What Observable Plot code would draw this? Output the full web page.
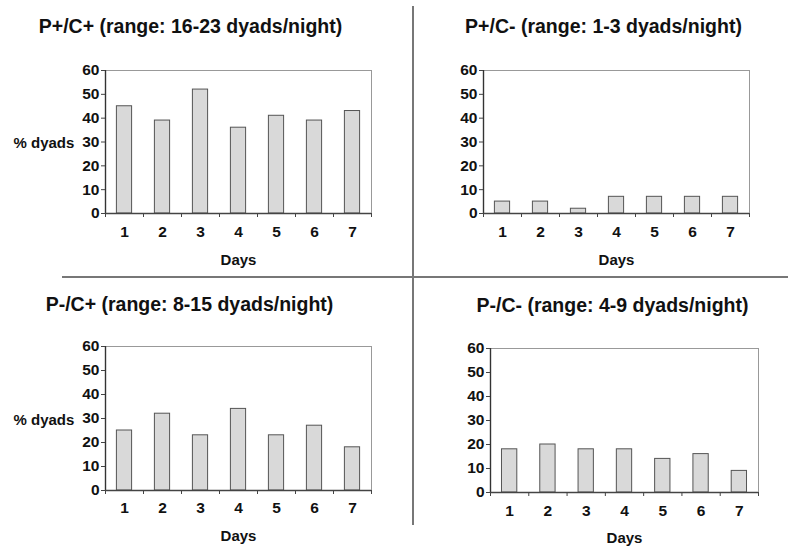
<!DOCTYPE html>
<html>
<head>
<meta charset="utf-8">
<script src="https://cdn.jsdelivr.net/npm/d3@7"></script>
<script src="https://cdn.jsdelivr.net/npm/@observablehq/plot@0.6"></script>
<style>
  html, body { margin: 0; padding: 0; background: #fff; }
  #chart { position: relative; width: 788px; height: 549px; font-family: "Liberation Sans", Arial, sans-serif; }
  #chart svg { position: absolute; max-width: none; }
  .divider { position: absolute; background: #777; }
</style>
</head>
<body>
<div id="chart"></div>
<script>
// ---- data ----
const days = [1, 2, 3, 4, 5, 6, 7];
const yTicks = [0, 10, 20, 30, 40, 50, 60];
const dayBoundaries = [0.5, 1.5, 2.5, 3.5, 4.5, 5.5, 6.5, 7.5];
const titles = [
  "P+/C+ (range: 16-23 dyads/night)",
  "P+/C- (range: 1-3 dyads/night)",
  "P-/C+ (range: 8-15 dyads/night)",
  "P-/C- (range: 4-9 dyads/night)"
];
const pPlusCPlus   = [45, 39, 52, 36, 41, 39, 43];
const pPlusCMinus  = [5, 5, 2, 7, 7, 7, 7];
const pMinusCPlus  = [25, 32, 23, 34, 23, 27, 18];
const pMinusCMinus = [18, 20, 18, 18, 14, 16, 9];
const yLabel = "% dyads";
const xLabel = "Days";

// ---- layout ----
const panels = [
  {values: pPlusCPlus,   title: titles[0], left: 0,   top: 0,   w: 412, h: 277, ml: 105, mr: 41, mt: 70, mb: 64, tdx: 85,  tdy: -44, xdy: 19, ddy: 47, ylab: true,  ldy: 1.5},
  {values: pPlusCMinus,  title: titles[1], left: 413, top: 0,   w: 375, h: 277, ml: 70,  mr: 39, mt: 70, mb: 64, tdx: 120, tdy: -44, xdy: 19, ddy: 47, ylab: false},
  {values: pMinusCPlus,  title: titles[2], left: 0,   top: 277, w: 412, h: 272, ml: 105, mr: 41, mt: 69, mb: 59, tdx: 84,  tdy: -42, xdy: 18, ddy: 46, ylab: true,  ldy: 2},
  {values: pMinusCMinus, title: titles[3], left: 413, top: 277, w: 375, h: 272, ml: 77,  mr: 30, mt: 71, mb: 57, tdx: 122, tdy: -43, xdy: 19, ddy: 46, ylab: false}
];

const font = "'Liberation Sans', Arial, sans-serif";
const chart = document.getElementById("chart");
const txt = {fontWeight: "bold", fill: "#111", lineAnchor: "middle"};

for (const p of panels) {
  const data = days.map((d, i) => ({day: d, pct: p.values[i]}));
  const marks = [
    Plot.rectY(data, {x1: d => d.day - 0.2, x2: d => d.day + 0.2, y: "pct", fill: "#d9d9d9", stroke: "#555", strokeWidth: 1}),
    Plot.ruleY([60], {stroke: "#999", strokeWidth: 1}),
    Plot.ruleX([7.5], {stroke: "#999", strokeWidth: 1}),
    Plot.ruleX([0.5], {stroke: "#333", strokeWidth: 1.4}),
    Plot.ruleY([0], {stroke: "#444", strokeWidth: 1.4}),
    // tick marks
    Plot.axisY({ticks: yTicks, tickSize: 4, tickFormat: () => "", label: null, stroke: "#444"}),
    Plot.axisX({ticks: dayBoundaries, tickSize: 4, tickFormat: () => "", label: null, stroke: "#444"}),
    // tick labels
    Plot.text(yTicks, {...txt, y: d => d, text: d => String(d), frameAnchor: "left", textAnchor: "end", dx: -6, fontSize: 15.5}),
    Plot.text(days, {...txt, x: d => d, text: d => String(d), frameAnchor: "bottom", textAnchor: "middle", dy: p.xdy, fontSize: 15.5}),
    // titles
    Plot.text([p.title], {...txt, text: d => d, frameAnchor: "top-left", textAnchor: "middle", dx: p.tdx, dy: p.tdy, fontSize: 19.5}),
    Plot.text([xLabel], {...txt, text: d => d, frameAnchor: "bottom", textAnchor: "middle", dy: p.ddy, fontSize: 15})
  ];
  if (p.ylab) {
    marks.push(Plot.text([yLabel], {...txt, text: d => d, frameAnchor: "left", textAnchor: "start", dx: 13 - p.ml, dy: p.ldy, fontSize: 15}));
  }
  const svg = Plot.plot({
    width: p.w, height: p.h,
    marginLeft: p.ml, marginRight: p.mr, marginTop: p.mt, marginBottom: p.mb,
    x: {domain: [0.5, 7.5], axis: null},
    y: {domain: [0, 60], axis: null},
    style: {fontFamily: font, color: "#111", background: "transparent", overflow: "visible"},
    marks
  });
  svg.style.left = p.left + "px";
  svg.style.top = p.top + "px";
  chart.appendChild(svg);
}

// quadrant dividers
const v = document.createElement("div");
v.className = "divider";
Object.assign(v.style, {left: "412px", top: "6px", width: "2px", height: "519px"});
chart.appendChild(v);
const h = document.createElement("div");
h.className = "divider";
Object.assign(h.style, {left: "62px", top: "276px", width: "726px", height: "2px"});
chart.appendChild(h);
</script>
</body>
</html>
